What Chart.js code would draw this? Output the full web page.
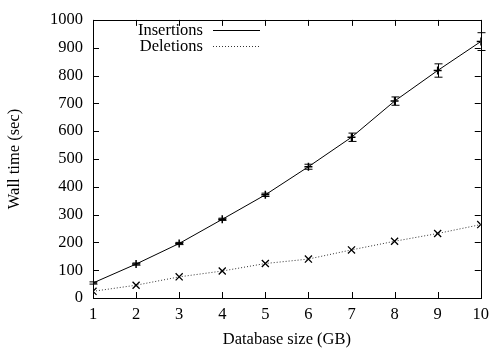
<!DOCTYPE html>
<html><head><meta charset="utf-8">
<script src="https://cdn.jsdelivr.net/npm/chart.js@4/dist/chart.umd.min.js"></script>
<style>html,body{margin:0;padding:0;background:#fff}#wrap{width:496px;height:350px}</style>
</head><body><div id="wrap"><canvas id="c" width="496" height="350"></canvas></div>
<script>
const sizesGB = [1,2,3,4,5,6,7,8,9,10];
const insertions = [54,122,196,283,371,472,578,708,818,922];
const insertionsErr = [4,4,4,4,6,9,15,15,24,32];
const deletions = [24,46,76,97,124,140,173,204,232,264];
const xTicks = [1,2,3,4,5,6,7,8,9,10];
const yTicks = [0,100,200,300,400,500,600,700,800,900,1000];

const FONT = "'Liberation Serif','Times New Roman',serif";
const FS = 16.5;

const errPlugin = {
  id:'errbars',
  afterDatasetsDraw(chart){
    const ctx=chart.ctx, xs=chart.scales.x, ys=chart.scales.y;
    ctx.save(); ctx.strokeStyle='#000'; ctx.lineWidth=1;
    sizesGB.forEach((g,i)=>{
      const px=Math.round(xs.getPixelForValue(g))+0.5;
      const hi=ys.getPixelForValue(insertions[i]+insertionsErr[i]);
      const lo=ys.getPixelForValue(insertions[i]-insertionsErr[i]);
      ctx.beginPath();
      ctx.moveTo(px,hi);ctx.lineTo(px,lo);
      ctx.moveTo(px-4,hi);ctx.lineTo(px+4,hi);
      ctx.moveTo(px-4,lo);ctx.lineTo(px+4,lo);
      ctx.stroke();
    });
    ctx.restore();
  },
  afterDraw(chart){
    const ctx=chart.ctx, xs=chart.scales.x, ys=chart.scales.y, a=chart.chartArea;
    ctx.save(); ctx.strokeStyle='#000'; ctx.lineWidth=1;
    ctx.strokeRect(Math.round(a.left)+0.5,Math.round(a.top)+0.5,Math.round(a.right-a.left),Math.round(a.bottom-a.top));
    const L=6;
    ctx.beginPath();
    xTicks.forEach(v=>{
      const p=Math.round(xs.getPixelForValue(v))+0.5;
      ctx.moveTo(p,a.bottom);ctx.lineTo(p,a.bottom-L);
      ctx.moveTo(p,a.top);ctx.lineTo(p,a.top+L);
    });
    yTicks.forEach(v=>{
      const p=Math.round(ys.getPixelForValue(v))+0.5;
      ctx.moveTo(a.left,p);ctx.lineTo(a.left+L,p);
      ctx.moveTo(a.right,p);ctx.lineTo(a.right-L,p);
    });
    ctx.stroke();
    // legend
    ctx.font=FS+'px '+FONT; ctx.fillStyle='#000'; ctx.textAlign='right'; ctx.textBaseline='middle';
    const rows=[{ds:chart.data.datasets[0],y:30},{ds:chart.data.datasets[1],y:45.5}];
    rows.forEach(r=>{
      ctx.fillText(r.ds.label,203,r.y+1);
      ctx.beginPath();
      ctx.setLineDash(r.ds.borderDash||[]);
      ctx.strokeStyle=r.ds.borderColor;
      ctx.moveTo(213,Math.round(r.y)+0.5);ctx.lineTo(260,Math.round(r.y)+0.5);
      ctx.stroke();
      ctx.setLineDash([]);
    });
    ctx.restore();
  }
};

new Chart(document.getElementById('c'),{
  type:'line',
  data:{datasets:[
    {label:'Insertions',data:sizesGB.map((g,i)=>({x:g,y:insertions[i]})),borderColor:'#000',borderWidth:1,
     pointStyle:'cross',pointRadius:4,pointBorderColor:'#000',pointBorderWidth:1.5,tension:0},
    {label:'Deletions',data:sizesGB.map((g,i)=>({x:g,y:deletions[i]})),borderColor:'#333',borderWidth:1,borderDash:[1,2],
     pointStyle:'crossRot',pointRadius:5,pointBorderColor:'#000',pointBorderWidth:1.3,tension:0}
  ]},
  options:{
    responsive:false,animation:false,
    layout:{padding:{left:0,top:14,right:11,bottom:0}},
    plugins:{legend:{display:false},tooltip:{enabled:false}},
    scales:{
      x:{type:'linear',min:1,max:10,
        afterBuildTicks(s){s.ticks=xTicks.map(v=>({value:v}));},
        afterFit(s){s.height=52;},
        grid:{display:false,drawTicks:false},border:{display:false},
        ticks:{padding:7,color:'#000',font:{family:FONT,size:FS},maxRotation:0,autoSkip:false,callback:v=>String(v)},
        title:{display:true,text:'Database size (GB)',color:'#000',font:{family:FONT,size:FS},padding:{top:0,bottom:0}}},
      y:{min:0,max:1000,
        afterBuildTicks(s){s.ticks=yTicks.map(v=>({value:v}));},
        afterFit(s){s.width=93;},
        grid:{display:false,drawTicks:false},border:{display:false},
        ticks:{padding:10,color:'#000',font:{family:FONT,size:FS},autoSkip:false,callback:v=>String(v)},
        title:{display:true,text:'Wall time (sec)',color:'#000',font:{family:FONT,size:FS},padding:{top:5,bottom:0}}}
    }
  },
  plugins:[errPlugin]
});
</script></body></html>
